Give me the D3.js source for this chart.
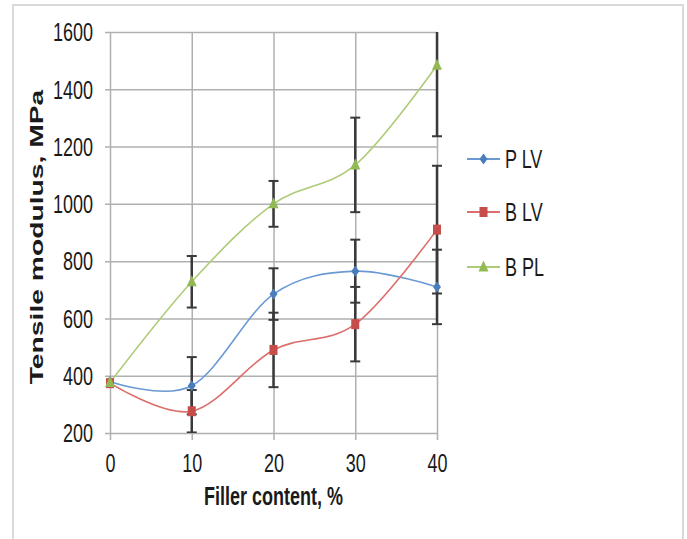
<!DOCTYPE html>
<html>
<head>
<meta charset="utf-8">
<script src="https://cdn.jsdelivr.net/npm/d3@7"></script>
<style>
  html, body { margin: 0; padding: 0; background: #fff; }
  svg { display: block; }
  text { font-family: "Liberation Sans", Arial, sans-serif; fill: #1a1a1a; }
</style>
</head>
<body>
<svg id="chart" width="687" height="539"></svg>
<script>
// ---- data ----
const fillerContent = [0, 10, 20, 30, 40];
const seriesNames = ["P LV", "B LV", "B PL"];
const plvValues = [380, 365, 685, 765, 710];
const plvErrors = [0, 100, 90, 110, 130];
const blvValues = [374, 276, 490, 580, 910];
const blvErrors = [0, 74, 130, 130, 223];
const bplValues = [376, 728, 1000, 1136, 1484];
const bplErrors = [0, 90, 80, 165, 248];
const yTicks = [200, 400, 600, 800, 1000, 1200, 1400, 1600];
const xTicks = [0, 10, 20, 30, 40];
const xTitle = "Filler content, %";
const yTitle = "Tensile modulus, MPa";

const series = [
  { name: seriesNames[0], values: plvValues, errors: plvErrors, line: "#6a9ad4", fill: "#4a7ebb", marker: "diamond" },
  { name: seriesNames[1], values: blvValues, errors: blvErrors, line: "#dc6f6b", fill: "#c64d4a", marker: "square" },
  { name: seriesNames[2], values: bplValues, errors: bplErrors, line: "#aecb78", fill: "#93b955", marker: "triangle" }
];

const svg = d3.select("#chart");
const SY = 1.4; // vertical text stretch seen in the reference

// outer frame
svg.append("rect").attr("x", 13).attr("y", 5).attr("width", 670).attr("height", 560)
  .attr("fill", "none").attr("stroke", "#d9d9d9").attr("stroke-width", 2);

const x = d3.scaleLinear().domain([0, 40]).range([110, 437]);
const y = d3.scaleLinear().domain([200, 1600]).range([433, 32]);

const gridColor = "#b0b0b0";

// horizontal grid + y axis ticks
const yAxis = svg.append("g").attr("transform", `translate(${x(0)},0)`)
  .call(d3.axisLeft(y).tickValues(yTicks).tickSize(5).tickSizeOuter(0).tickFormat(d3.format("d")));
yAxis.select(".domain").remove();
yAxis.selectAll(".tick line").attr("stroke", gridColor).attr("stroke-width", 1.5)
  .attr("x1", -5).attr("x2", x(40) - x(0));
yAxis.selectAll(".tick text")
  .attr("x", null).attr("dy", null)
  .attr("transform", `translate(-17,0) scale(1,${SY})`)
  .attr("dy", "0.35em")
  .attr("text-anchor", "end")
  .style("font-size", "18px").style("fill", "#1a1a1a")
  .style("font-family", '"Liberation Sans", Arial, sans-serif');

// vertical grid + x axis ticks
const xAxis = svg.append("g").attr("transform", `translate(0,${y(200)})`)
  .call(d3.axisBottom(x).tickValues(xTicks).tickSize(7).tickSizeOuter(0).tickFormat(d3.format("d")));
xAxis.select(".domain").remove();
xAxis.selectAll(".tick line").attr("stroke", gridColor).attr("stroke-width", 1.5)
  .attr("y1", y(1600) - y(200)).attr("y2", 7);
xAxis.selectAll(".tick text")
  .attr("y", null).attr("dy", null)
  .attr("transform", `translate(0,39) scale(1,${SY})`)
  .attr("text-anchor", "middle")
  .style("font-size", "18px").style("fill", "#1a1a1a")
  .style("font-family", '"Liberation Sans", Arial, sans-serif');

// axis titles
svg.append("text")
  .attr("transform", `translate(${(x(0) + x(40)) / 2},505) scale(1,${SY})`)
  .attr("text-anchor", "middle")
  .style("font-size", "18px").style("font-weight", "bold")
  .text(xTitle);

svg.append("text")
  .attr("transform", `translate(43,237) rotate(-90) scale(1.57,1)`)
  .attr("text-anchor", "middle")
  .style("font-size", "18px").style("font-weight", "bold")
  .text(yTitle);

// clip for error bars
svg.append("clipPath").attr("id", "plotClip").append("rect")
  .attr("x", x(0) - 20).attr("y", y(1600)).attr("width", x(40) - x(0) + 40).attr("height", y(200) - y(1600));

// error bars
const errG = svg.append("g").attr("clip-path", "url(#plotClip)");
series.forEach(s => {
  s.values.forEach((v, i) => {
    const e = s.errors[i];
    if (!e) return;
    const cx = x(fillerContent[i]);
    errG.append("line").attr("x1", cx).attr("x2", cx)
      .attr("y1", y(v - e)).attr("y2", y(v + e))
      .attr("stroke", "#3a3a3a").attr("stroke-width", 2.5);
    [v - e, v + e].forEach(t => {
      errG.append("line").attr("x1", cx - 5).attr("x2", cx + 5)
        .attr("y1", y(t)).attr("y2", y(t))
        .attr("stroke", "#3a3a3a").attr("stroke-width", 2);
    });
  });
});

// lines
const lineGen = d3.line()
  .x((d, i) => x(fillerContent[i]))
  .y(d => y(d))
  .curve(d3.curveCatmullRom.alpha(0));

series.forEach(s => {
  svg.append("path").datum(s.values).attr("d", lineGen)
    .attr("fill", "none").attr("stroke", s.line).attr("stroke-width", 1.6);
});

function drawMarker(g, type, cx, cy, color) {
  if (type === "diamond") {
    g.append("path").attr("d", `M${cx},${cy - 5.5}L${cx + 4},${cy}L${cx},${cy + 5.5}L${cx - 4},${cy}Z`).attr("fill", color);
  } else if (type === "square") {
    g.append("rect").attr("x", cx - 4).attr("y", cy - 5).attr("width", 8).attr("height", 10).attr("fill", color);
  } else {
    g.append("path").attr("d", `M${cx},${cy - 6.5}L${cx + 5},${cy + 4.5}L${cx - 5},${cy + 4.5}Z`).attr("fill", color);
  }
}

series.forEach(s => {
  const g = svg.append("g");
  s.values.forEach((v, i) => drawMarker(g, s.marker, x(fillerContent[i]), y(v), s.fill));
});

// legend
const legendY = [159, 212, 267];
series.forEach((s, i) => {
  const g = svg.append("g");
  g.append("line").attr("x1", 467).attr("x2", 500).attr("y1", legendY[i]).attr("y2", legendY[i])
    .attr("stroke", s.line).attr("stroke-width", 1.8);
  drawMarker(g, s.marker, 483.5, legendY[i], s.fill);
  g.append("text")
    .attr("transform", `translate(505,${legendY[i]}) scale(1,${SY})`)
    .attr("dy", "0.36em")
    .style("font-size", "18px")
    .text(s.name);
});
</script>
</body>
</html>
